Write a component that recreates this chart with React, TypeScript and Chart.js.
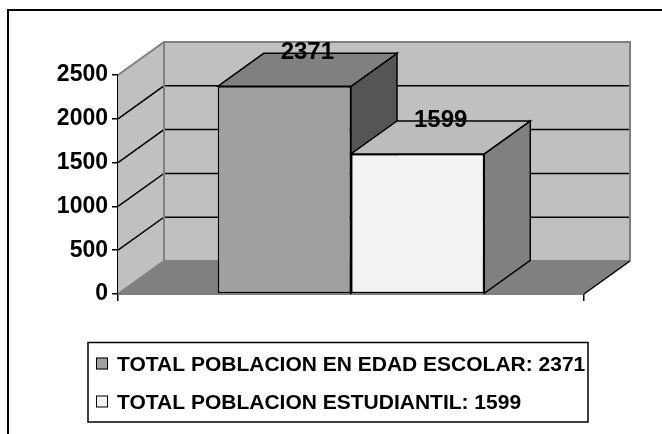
import { useEffect, useRef } from 'react';
import { Chart, registerables } from 'chart.js';

Chart.register(...registerables);

// ---------- data ----------
const categories = [''];
const seriesLabels = [
  'TOTAL POBLACION EN EDAD ESCOLAR: 2371',
  'TOTAL POBLACION ESTUDIANTIL: 1599',
];
const escolarValues = [2371];
const estudiantilValues = [1599];
const yTicks = [0, 500, 1000, 1500, 2000, 2500];

// ---------- styles ----------
const FONT = '"Liberation Sans", Arial, Helvetica, sans-serif';
const DX = 46;
const DY = 33;
const WALL = '#c0c0c0';
const FLOOR = '#808080';
const EDGE = '#808080';
const faces = [
  { front: '#a0a0a0', top: '#808080', side: '#555555' },
  { front: '#f2f2f2', top: '#bcbcbc', side: '#808080' },
];

type P = [number, number];

function poly(ctx: CanvasRenderingContext2D, pts: P[], fill?: string, stroke?: string, lw = 1.5) {
  ctx.beginPath();
  ctx.moveTo(pts[0][0], pts[0][1]);
  for (let i = 1; i < pts.length; i++) ctx.lineTo(pts[i][0], pts[i][1]);
  ctx.closePath();
  if (fill) {
    ctx.fillStyle = fill;
    ctx.fill();
  }
  if (stroke) {
    ctx.strokeStyle = stroke;
    ctx.lineWidth = lw;
    ctx.lineJoin = 'miter';
    ctx.stroke();
  }
}

function line(ctx: CanvasRenderingContext2D, pts: P[], color: string, lw: number) {
  ctx.beginPath();
  ctx.moveTo(pts[0][0], pts[0][1]);
  for (let i = 1; i < pts.length; i++) ctx.lineTo(pts[i][0], pts[i][1]);
  ctx.strokeStyle = color;
  ctx.lineWidth = lw;
  ctx.stroke();
}

const threeD = {
  id: 'threeD',
  beforeDatasetsDraw(chart: any) {
    const { ctx, chartArea: a, scales } = chart;
    const ys = scales.y;
    const L = a.left, R = a.right, T = a.top, B = a.bottom;
    ctx.save();
    // walls and floor
    poly(ctx, [[L, T], [L + DX, T - DY], [L + DX, B - DY], [L, B]], WALL);
    poly(ctx, [[L + DX, T - DY], [R + DX, T - DY], [R + DX, B - DY], [L + DX, B - DY]], WALL);
    poly(ctx, [[L, B], [L + DX, B - DY], [R + DX, B - DY], [R, B]], FLOOR);
    // grid lines
    const maxV = yTicks[yTicks.length - 1];
    yTicks.forEach((v) => {
      if (v === 0 || v === maxV) return;
      const py = ys.getPixelForValue(v);
      line(ctx, [[L, py], [L + DX, py - DY], [R + DX, py - DY]], '#000', 1.5);
    });
    // gray edges
    line(ctx, [[L, T], [L + DX, T - DY], [R + DX, T - DY], [R + DX, B - DY]], EDGE, 2);
    line(ctx, [[L, B], [L + DX, B - DY], [R + DX, B - DY]], EDGE, 2);
    line(ctx, [[L + DX, T - DY], [L + DX, B - DY]], EDGE, 2);
    line(ctx, [[R, B], [R + DX, B - DY]], '#000', 1.5);
    // bar tops and sides
    chart.data.datasets.forEach((_ds: any, i: number) => {
      const meta = chart.getDatasetMeta(i);
      const f = faces[i % faces.length];
      meta.data.forEach((bar: any) => {
        const { x, y, base, width } = bar.getProps(['x', 'y', 'base', 'width'], true);
        const l = x - width / 2, r = x + width / 2;
        poly(ctx, [[r, y], [r + DX, y - DY], [r + DX, base - DY], [r, base]], f.side, '#000', 1.5);
        poly(ctx, [[l, y], [l + DX, y - DY], [r + DX, y - DY], [r, y]], f.top, '#000', 1.5);
      });
    });
    ctx.restore();
  },
  afterDatasetsDraw(chart: any) {
    const { ctx } = chart;
    ctx.save();
    ctx.font = `bold 24px ${FONT}`;
    ctx.fillStyle = '#000';
    ctx.textAlign = 'center';
    ctx.textBaseline = 'alphabetic';
    chart.data.datasets.forEach((ds: any, i: number) => {
      const meta = chart.getDatasetMeta(i);
      meta.data.forEach((bar: any, j: number) => {
        const { x, y } = bar.getProps(['x', 'y'], true);
        ctx.fillText(String(ds.data[j]), x + DX / 2, y - DY + 6);
      });
    });
    ctx.restore();
  },
  afterDraw(chart: any) {
    const { ctx } = chart;
    ctx.save();
    // outer frame (left & top edges visible)
    line(ctx, [[8, 434], [8, 10], [662, 10]], '#000', 2);
    // legend
    ctx.strokeStyle = '#000';
    ctx.lineWidth = 1.5;
    ctx.strokeRect(88, 342.5, 500, 79.5);
    ctx.font = `bold 21px ${FONT}`;
    ctx.textAlign = 'left';
    ctx.textBaseline = 'alphabetic';
    const rows = [363.5, 401.5];
    chart.data.datasets.forEach((ds: any, i: number) => {
      const cy = rows[i];
      ctx.fillStyle = ds.backgroundColor;
      ctx.fillRect(96, cy - 6, 12, 12);
      ctx.strokeStyle = '#000';
      ctx.lineWidth = 1;
      ctx.strokeRect(96.5, cy - 5.5, 11, 11);
      ctx.fillStyle = '#000';
      ctx.fillText(ds.label, 117, cy + 7.5);
    });
    ctx.restore();
  },
};

export default function App() {
  const ref = useRef<HTMLCanvasElement | null>(null);
  useEffect(() => {
    if (!ref.current) return;
    const chart = new Chart(ref.current, {
      type: 'bar',
      data: {
        labels: categories,
        datasets: [
          {
            label: seriesLabels[0],
            data: escolarValues,
            backgroundColor: faces[0].front,
            borderColor: '#000',
            borderWidth: 1.5,
            borderSkipped: false,
          },
          {
            label: seriesLabels[1],
            data: estudiantilValues,
            backgroundColor: faces[1].front,
            borderColor: '#000',
            borderWidth: 1.5,
            borderSkipped: false,
          },
        ],
      },
      options: {
        responsive: false,
        animation: false,
        devicePixelRatio: 1,
        layout: { padding: { left: 0, top: 75, right: 78, bottom: 130 } },
        datasets: { bar: { categoryPercentage: 0.572, barPercentage: 1 } },
        plugins: {
          legend: { display: false },
          tooltip: { enabled: false },
        },
        scales: {
          x: {
            type: 'category',
            offset: true,
            z: 1,
            grid: {
              display: true,
              drawOnChartArea: false,
              drawTicks: true,
              tickLength: 7,
              color: '#000',
              lineWidth: 1.5,
              offset: true,
            },
            border: { display: true, color: '#000', width: 1.5 },
            ticks: { display: false },
            afterFit: (s: any) => {
              s.height = 10;
            },
          },
          y: {
            min: yTicks[0],
            max: yTicks[yTicks.length - 1],
            z: 1,
            ticks: {
              stepSize: yTicks[1] - yTicks[0],
              color: '#000',
              padding: 4,
              font: { family: FONT, size: 23, weight: 'bold' },
              callback: (v: any) => String(v),
            },
            grid: {
              display: true,
              drawOnChartArea: false,
              drawTicks: true,
              tickLength: 6,
              color: '#000',
              lineWidth: 1.5,
            },
            border: { display: true, color: '#000', width: 1.5 },
            afterFit: (s: any) => {
              s.width = 118;
            },
          },
        },
      },
      plugins: [threeD],
    } as any);
    return () => chart.destroy();
  }, []);
  return (
    <canvas
      ref={ref}
      width={662}
      height={434}
      style={{ position: 'absolute', left: 0, top: 0, display: 'block' }}
    />
  );
}
